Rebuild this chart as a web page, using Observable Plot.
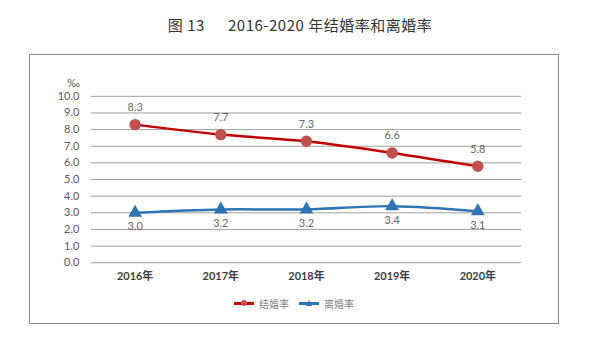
<!DOCTYPE html>
<html><head><meta charset="utf-8">
<script src="https://cdn.jsdelivr.net/npm/d3@7"></script>
<script src="https://cdn.jsdelivr.net/npm/@observablehq/plot@0.6"></script>
<style>
body{margin:0;background:#fff;width:600px;height:351px;position:relative;overflow:hidden;font-family:Lato,"Noto Sans CJK SC",sans-serif;}
#title{position:absolute;left:0;width:600px;top:14px;text-align:center;font-family:"Noto Sans CJK SC",serif;font-size:15px;color:#333;white-space:pre;letter-spacing:0.5px;}
#box{position:absolute;left:29px;top:54px;width:528px;height:268px;border:1.5px solid #8a8a8a;}
#chart{position:absolute;left:0;top:0;}
#legend{position:absolute;left:0;width:528px;top:238px;text-align:center;font-size:10px;color:#7f7f7f;font-family:"Noto Sans CJK SC",sans-serif;}
.li{display:inline-flex;align-items:center;margin:0 5px;}
.sw{position:relative;width:20px;height:3px;margin-right:5px;}
.sw i{position:absolute;left:7px;top:-2px;width:6px;height:6px;border-radius:3px;}
</style></head>
<body>
<div id="title">图 13      2016-2020 年结婚率和离婚率</div>
<div id="box"><div id="chart"></div>
<div id="legend"><span class="li"><span class="sw" style="background:#c00000"><i style="background:#c0504d"></i></span>结婚率</span><span class="li"><span class="sw" style="background:#2e75b6"><i style="border-radius:0;width:0;height:0;border-left:3px solid transparent;border-right:3px solid transparent;border-bottom:6px solid #2e75b6;background:none"></i></span>离婚率</span></div>
</div>
<script>
const years = ["2016年","2017年","2018年","2019年","2020年"];
const marriage = [8.3, 7.7, 7.3, 6.6, 5.8];
const divorce = [3.0, 3.2, 3.2, 3.4, 3.1];
const yTicks = [0,1,2,3,4,5,6,7,8,9,10];

const mData = years.map((y,i)=>({year:y, v:marriage[i]}));
const dData = years.map((y,i)=>({year:y, v:divorce[i]}));

const chart = Plot.plot({
  width: 530, height: 270,
  marginLeft: 61, marginRight: 37, marginTop: 41, marginBottom: 62,
  style: {fontFamily: 'Lato,"Noto Sans CJK SC",sans-serif', background: "transparent"},
  x: {type: "point", domain: years, padding: 0.5},
  y: {domain: [0, 10]},
  marks: [
    Plot.ruleY(yTicks, {stroke: "#a0a0a0", strokeWidth: 1}),
    Plot.axisY(yTicks, {tickSize: 0, tickPadding: 12, tickFormat: d => d.toFixed(1), fontSize: 11, fill: "#595959", label: null}),
    Plot.axisX({tickSize: 0, tickPadding: 10, fontSize: 11, fontWeight: "bold", fill: "#404040", label: null}),
    Plot.text(["‰"], {frameAnchor: "top-left", dx: -24, dy: -17, fontSize: 11, fill: "#595959"}),
    Plot.line(mData, {x: "year", y: "v", stroke: "#c00000", strokeWidth: 2.5, curve: "catmull-rom"}),
    Plot.dot(mData, {x: "year", y: "v", r: 5, fill: "#c0504d", stroke: "#c0504d"}),
    Plot.text(mData, {x: "year", y: "v", text: d => d.v.toFixed(1), dy: -17, fontSize: 11, fill: "#666"}),
    Plot.line(dData, {x: "year", y: "v", stroke: "#2e75b6", strokeWidth: 2.5, curve: "catmull-rom"}),
    Plot.dot(dData, {x: "year", y: "v", r: 4.2, symbol: "triangle", fill: "#2e75b6", stroke: "#2e75b6"}),
    Plot.text(dData, {x: "year", y: "v", text: d => d.v.toFixed(1), dy: 14, fontSize: 11, fill: "#666"})
  ]
});
document.getElementById("chart").appendChild(chart);
</script>
</body></html>
